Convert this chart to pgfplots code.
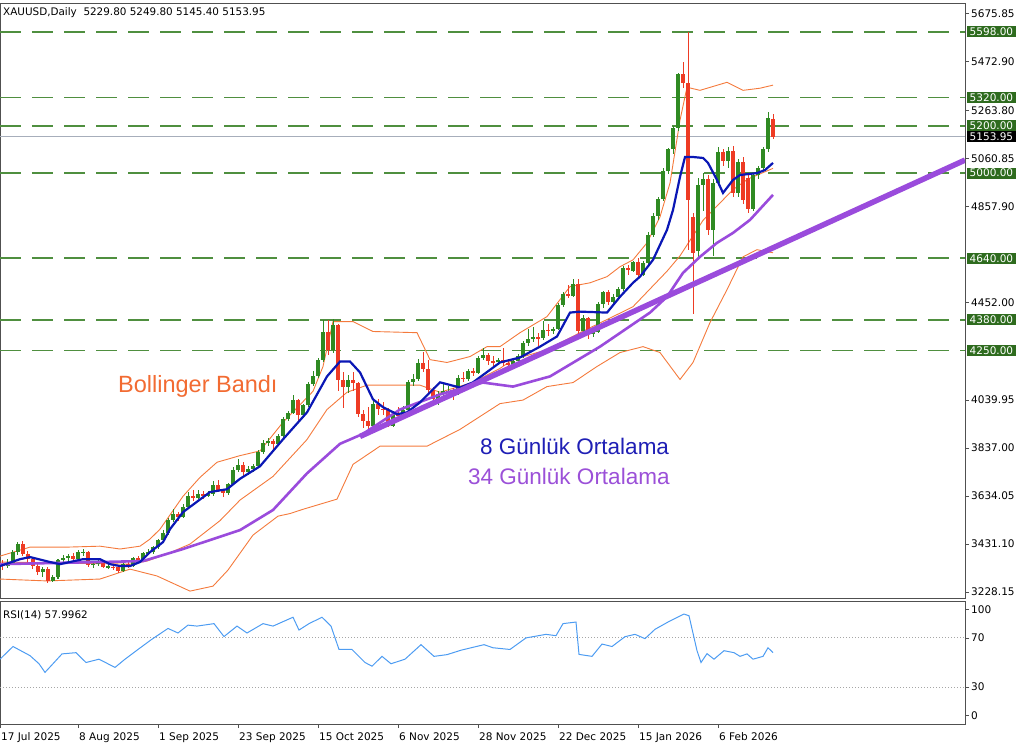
\documentclass[border=0pt]{standalone}
\usepackage{pgfplots}
\pgfplotsset{compat=1.18}
\usepackage{pgfplotstable}
\usepackage{fontspec}
\setmainfont{DejaVu Sans}
\newfontfamily\arialfont{Liberation Sans}

\definecolor{upc}{HTML}{2F8A22}
\definecolor{dnc}{HTML}{EE3B24}
\definecolor{bband}{HTML}{F47A3C}
\definecolor{ma8}{HTML}{0A17B5}
\definecolor{ma34}{HTML}{9A4BDC}
\definecolor{lvl}{HTML}{4F8F3F}
\definecolor{lvlbox}{HTML}{2E6B1E}
\definecolor{rsiblue}{HTML}{4D9CF2}
\definecolor{frame}{HTML}{505050}
\definecolor{pricegray}{HTML}{A7AEBB}
\definecolor{txtorange}{HTML}{F26B32}
\definecolor{txtblue}{HTML}{1F1FB5}
\definecolor{txtpurple}{HTML}{9B50D8}

\newcommand\tickfont{\fontsize{10.5}{12}\selectfont}

% daily candles: index, open, high, low, close
\pgfplotstableread{
i o h l c
0 3348 3365 3322 3340
1 3340 3368 3330 3352
2 3352 3405 3345 3397
3 3397 3440 3385 3431
4 3431 3445 3380 3390
5 3390 3400 3352 3368
6 3368 3378 3325 3337
7 3337 3345 3300 3314
8 3314 3335 3290 3326
9 3326 3334 3268 3275
10 3275 3300 3270 3290
11 3290 3366 3282 3362
12 3362 3385 3352 3373
13 3373 3390 3355 3380
14 3380 3392 3355 3368
15 3368 3405 3360 3397
16 3397 3410 3380 3398
17 3398 3402 3335 3342
18 3342 3360 3330 3348
19 3348 3370 3340 3356
20 3356 3362 3330 3336
21 3336 3348 3325 3336
22 3336 3345 3322 3332
23 3332 3338 3310 3316
24 3316 3352 3312 3346
25 3346 3355 3330 3339
26 3339 3378 3335 3371
27 3371 3380 3355 3366
28 3366 3398 3360 3393
29 3393 3410 3385 3397
30 3397 3423 3390 3417
31 3417 3452 3410 3448
32 3448 3490 3440 3477
33 3477 3540 3470 3533
34 3533 3578 3525 3560
35 3560 3568 3528 3545
36 3545 3600 3540 3587
37 3587 3650 3580 3636
38 3636 3658 3615 3626
39 3626 3660 3620 3641
40 3641 3655 3620 3634
41 3634 3655 3628 3643
42 3643 3698 3635 3680
43 3680 3703 3650 3660
44 3660 3665 3630 3645
45 3645 3690 3640 3685
46 3685 3755 3680 3746
47 3746 3790 3735 3764
48 3764 3778 3720 3737
49 3737 3762 3725 3750
50 3750 3770 3735 3760
51 3760 3830 3755 3820
52 3820 3870 3810 3858
53 3858 3880 3845 3866
54 3866 3875 3830 3856
55 3856 3895 3850 3886
56 3886 3970 3880 3960
57 3960 3995 3950 3985
58 3985 4060 3980 4040
59 4040 4045 3945 3975
60 3975 4025 3965 4018
61 4018 4118 4010 4110
62 4110 4165 4100 4142
63 4142 4218 4135 4210
64 4210 4380 4200 4326
65 4326 4380 4230 4252
66 4252 4381 4240 4356
67 4356 4360 4080 4125
68 4125 4160 4005 4095
69 4095 4145 4070 4126
70 4126 4160 4080 4112
71 4112 4115 3970 3982
72 3982 4000 3920 3952
73 3952 4010 3910 3930
74 3930 4040 3915 4025
75 4025 4045 3975 4002
76 4002 4030 3975 4000
77 4000 4005 3928 3932
78 3932 3995 3925 3980
79 3980 4010 3960 3977
80 3977 4015 3970 4000
81 4000 4125 3995 4115
82 4115 4150 4100 4128
83 4128 4212 4120 4195
84 4195 4245 4160 4172
85 4172 4210 4065 4083
86 4083 4095 4030 4046
87 4046 4080 4020 4066
88 4066 4110 4040 4077
89 4077 4100 4050 4078
90 4078 4090 4040 4065
91 4065 4145 4060 4135
92 4135 4160 4115 4131
93 4131 4172 4120 4163
94 4163 4175 4140 4155
95 4155 4225 4150 4218
96 4218 4260 4210 4232
97 4232 4240 4190 4206
98 4206 4225 4180 4199
99 4199 4220 4190 4208
100 4208 4260 4185 4198
101 4198 4215 4170 4189
102 4189 4215 4180 4207
103 4207 4235 4195 4228
104 4228 4288 4220 4280
105 4280 4340 4270 4300
106 4300 4350 4285 4305
107 4305 4325 4270 4302
108 4302 4375 4295 4338
109 4338 4360 4310 4332
110 4332 4350 4320 4339
111 4339 4450 4335 4444
112 4444 4497 4435 4490
113 4490 4525 4470 4480
114 4480 4550 4475 4532
115 4532 4550 4302 4332
116 4332 4400 4310 4385
117 4385 4390 4300 4319
118 4319 4350 4305 4330
119 4330 4455 4325 4448
120 4448 4500 4430 4495
121 4495 4505 4440 4455
122 4455 4490 4445 4478
123 4478 4520 4465 4510
124 4510 4605 4500 4597
125 4597 4610 4570 4588
126 4588 4630 4580 4625
127 4625 4640 4555 4570
128 4570 4630 4565 4620
129 4620 4750 4610 4740
130 4740 4830 4730 4820
131 4820 4900 4800 4890
132 4890 5020 4880 5010
133 5010 5105 4995 5100
134 5100 5200 5080 5190
135 5190 5425 5180 5420
136 5420 5470 5360 5380
137 5380 5598 4675 4885
138 4815 4830 4405 4660
139 4670 4980 4640 4950
140 4950 5000 4840 4975
141 4975 4990 4740 4760
142 4760 4975 4650 4960
143 4960 5110 4950 5090
144 5090 5100 5030 5050
145 5050 5110 5020 5095
146 5095 5115 4900 4915
147 4915 5060 4900 5045
148 5045 5070 4870 4885
149 4980 5000 4830 4850
150 4850 5000 4840 4990
151 4990 5030 4975 5020
152 5020 5110 5010 5100
153 5100 5260 5090 5235
154 5229.8 5249.8 5145.4 5153.95
}\candles

\pgfplotsset{
  mt/.style={
    scale only axis, width=965pt, enlargelimits=false,
    xmin=-0.6, xmax=192.4,
    axis line style={draw=frame, line width=0.8pt},
    tick style={draw=frame, line width=0.6pt},
    tick align=outside, major tick length=4pt,
    ytick pos=right, yticklabel pos=right,
    yticklabel style={anchor=west, inner sep=0pt, xshift=2pt, font=\tickfont},
    clip mode=individual,
  },
  lvlline/.style={lvl, line width=1.8pt, dash pattern=on 21pt off 11pt, forget plot},
}
\tikzset{
  lbl/.style={anchor=west, fill=lvlbox, text=white, font=\tickfont,
    inner xsep=2.5pt, inner ysep=1.5pt, xshift=2pt},
}

\begin{document}
\begin{tikzpicture}
\useasboundingbox (0pt,0pt) rectangle (1024pt,-749pt);

\begin{axis}[mt, name=main, at={(0pt,-3pt)}, anchor=north west,
  height=595pt, ymin=3202.8, ymax=5719.4,
  xtick=\empty,
  ytick={3228.15,3431.10,3634.05,3837.00,4039.95,4452.00,4857.90,5060.85,5263.80,5472.90,5675.85},
  yticklabels={3228.15,3431.10,3634.05,3837.00,4039.95,4452.00,4857.90,5060.85,5263.80,5472.90,5675.85},
]
% horizontal levels
\addplot[lvlline] coordinates {(-0.6,5598) (192.4,5598)};
\addplot[lvlline] coordinates {(-0.6,5320) (192.4,5320)};
\addplot[lvlline] coordinates {(-0.6,5200) (192.4,5200)};
\addplot[lvlline] coordinates {(-0.6,5000) (192.4,5000)};
\addplot[lvlline] coordinates {(-0.6,4640) (192.4,4640)};
\addplot[lvlline] coordinates {(-0.6,4380) (192.4,4380)};
\addplot[lvlline] coordinates {(-0.6,4250) (192.4,4250)};
\addplot[pricegray, line width=0.8pt, forget plot] coordinates {(-0.6,5153.95) (192.4,5153.95)};

% bollinger bands
\addplot[bband, line width=0.9pt, forget plot] coordinates {
(-0.6,3380) (5.4,3418) (12.8,3418) (19.4,3422) (23.4,3410) (27.4,3422) (29.4,3452)
(31.4,3494) (32.8,3536) (36,3633) (39.4,3713) (42.8,3777) (47.4,3805) (51.4,3825)
(56,3946) (62,4077) (64,4182) (66,4372) (70,4372) (74,4330) (82.8,4325) (85.4,4211)
(88.8,4199) (93.4,4224) (96.8,4266) (99.4,4266) (103.4,4325) (108.8,4393) (113.4,4520)
(117.4,4536) (120.8,4562) (123.4,4604) (126,4633) (128.8,4705) (131.4,4815)
(133.4,4958) (135.4,5224) (136.8,5363) (139.4,5350) (144.8,5384) (148,5350)
(151.4,5359) (154,5372)};
\addplot[bband, line width=0.9pt, forget plot] coordinates {
(-0.6,3355) (11.4,3351) (25.4,3346) (28.8,3359) (32.8,3389) (37.4,3431) (43.4,3530)
(47.4,3617) (54,3717) (60.8,3873) (64.8,4000) (68.8,4073) (72.8,4103) (83.4,4103)
(87.4,4073) (94,4115) (99.4,4174) (102,4211) (108.8,4253) (115.4,4325) (122,4393)
(126,4435) (132.8,4585) (135.4,4650) (140,4800) (146,4930) (149,4975) (154,5020)};
\addplot[bband, line width=0.9pt, forget plot] coordinates {
(-0.6,3283) (8.8,3275) (19.4,3283) (25.4,3325) (30.8,3296) (37.4,3232) (42,3253)
(45,3321) (50,3469) (55,3549) (57.4,3560) (60,3578) (66.8,3621) (70,3768) (75.4,3845)
(84.8,3845) (91.4,3916) (99.4,4025) (104,4040) (108.8,4097) (114,4114) (118.8,4182)
(123.4,4241) (128,4266) (131.4,4241) (135.4,4127) (138,4199) (141.4,4368)
(144.8,4507) (148,4646) (150.8,4676) (154,4663)};

% candles: wicks and bodies
\addplot[draw=none, mark=none, forget plot,
  restrict expr to domain={\thisrow{c}-\thisrow{o}}{0:100000},
  error bars/.cd, y dir=both, y explicit, error mark=none,
  error bar style={draw=upc, line width=1pt}]
  table[x=i, y expr={(\thisrow{h}+\thisrow{l})/2}, y error expr={(\thisrow{h}-\thisrow{l})/2}] {\candles};
\addplot[draw=none, mark=none, forget plot,
  restrict expr to domain={\thisrow{c}-\thisrow{o}}{0:100000},
  error bars/.cd, y dir=both, y explicit, error mark=none,
  error bar style={draw=upc, line width=3.8pt}]
  table[x=i, y expr={(\thisrow{o}+\thisrow{c})/2}, y error expr={max(abs(\thisrow{c}-\thisrow{o})/2,1.5)}] {\candles};
\addplot[draw=none, mark=none, forget plot,
  restrict expr to domain={\thisrow{c}-\thisrow{o}}{-100000:-0.001},
  error bars/.cd, y dir=both, y explicit, error mark=none,
  error bar style={draw=dnc, line width=1pt}]
  table[x=i, y expr={(\thisrow{h}+\thisrow{l})/2}, y error expr={(\thisrow{h}-\thisrow{l})/2}] {\candles};
\addplot[draw=none, mark=none, forget plot,
  restrict expr to domain={\thisrow{c}-\thisrow{o}}{-100000:-0.001},
  error bars/.cd, y dir=both, y explicit, error mark=none,
  error bar style={draw=dnc, line width=3.8pt}]
  table[x=i, y expr={(\thisrow{o}+\thisrow{c})/2}, y error expr={max(abs(\thisrow{c}-\thisrow{o})/2,1.5)}] {\candles};

% 34-day average
\addplot[ma34, line width=2.6pt, forget plot] coordinates {
(-0.6,3346) (28,3359) (36,3410) (47.4,3490) (54,3575) (60.8,3730) (67.4,3855)
(72,3897) (79.4,4000) (87.4,4064) (96,4114) (102,4097) (109.4,4140) (119.4,4266)
(129.4,4410) (132.8,4477) (136,4578) (139.4,4646) (142.8,4705) (146,4747)
(149.4,4802) (154,4908)};
% 8-day average
\addplot[ma8, line width=2.2pt, forget plot] coordinates {
(-0.6,3338) (3.4,3367) (5.4,3376) (9.4,3355) (11.4,3346) (16,3367) (19.4,3367)
(21.4,3346) (23.4,3338) (25.4,3338) (27.4,3355) (29.4,3397) (32,3439) (33.4,3494)
(36,3566) (41.4,3651) (44.8,3663) (47.4,3707) (51.4,3760) (56,3874) (60.8,3988)
(64.8,4140) (67.4,4203) (69.4,4203) (71.4,4157) (74,4043) (76,4010) (78.8,3980)
(80.8,3988) (83.4,4030) (87.4,4115) (91.4,4093) (94,4115) (99.4,4199) (103.4,4220)
(107.4,4266) (110.8,4309) (113.4,4410) (115.4,4414) (120.8,4410) (123.4,4477)
(126,4536) (127.4,4562) (130,4633) (132.8,4760) (134,4844) (135.4,4984) (136.4,5068)
(138,5068) (140,5064) (141,5043) (142.8,4971) (144,4916) (146,4971) (147.4,4992)
(150.8,5000) (152.4,5013) (154,5043)};
% trend line
\addplot[ma34, line width=5.5pt, forget plot] coordinates {(71.4,3886) (192.4,5055)};

% level labels on the price scale
\node[lbl] at (192.4,5598) {5598.00};
\node[lbl] at (192.4,5320) {5320.00};
\node[lbl] at (192.4,5200) {5200.00};
\node[lbl, fill=black] at (192.4,5153.95) {5153.95};
\node[lbl] at (192.4,5000) {5000.00};
\node[lbl] at (192.4,4640) {4640.00};
\node[lbl] at (192.4,4380) {4380.00};
\node[lbl] at (192.4,4250) {4250.00};

% texts
\node[anchor=base west, inner sep=0pt, font=\fontsize{10.4}{12}\selectfont]
  at (rel axis cs:0,1) [xshift=3pt, yshift=-13pt] {XAUUSD,Daily\ \ 5229.80 5249.80 5145.40 5153.95};
\node[anchor=base west, inner sep=0pt, text=txtorange, font=\arialfont\fontsize{23.5}{26}\selectfont]
  at (23,4074) {Bollinger Bandı};
\node[anchor=base west, inner sep=0pt, text=txtblue, font=\arialfont\fontsize{22.5}{26}\selectfont]
  at (95.4,3808) {8 Günlük Ortalama};
\node[anchor=base west, inner sep=0pt, text=txtpurple, font=\arialfont\fontsize{22.5}{26}\selectfont]
  at (93,3685) {34 Günlük Ortalama};
\end{axis}

\begin{axis}[mt, name=rsi, at={(0pt,-601pt)}, anchor=north west,
  height=123pt, ymin=0, ymax=100,
  ytick={7,30,70,93}, yticklabels={0,30,70,100},
  xtick pos=bottom,
  xtick={-0.6,15,31,47,63,79,95,111,127,143},
  xticklabels={17 Jul 2025,8 Aug 2025,1 Sep 2025,23 Sep 2025,15 Oct 2025,6 Nov 2025,28 Nov 2025,22 Dec 2025,15 Jan 2026,6 Feb 2026},
  xticklabel style={anchor=north west, inner sep=0pt, xshift=1pt, yshift=-4pt, font=\tickfont},
]
\addplot[gray!70, line width=1pt, dotted, forget plot] coordinates {(-0.6,70) (192.4,70)};
\addplot[gray!70, line width=1pt, dotted, forget plot] coordinates {(-0.6,30) (192.4,30)};
\addplot[rsiblue, line width=1pt, forget plot] coordinates {
(-0.6,52.7) (2,63) (5.4,55.6) (7.2,49) (8.4,42) (10,49) (11.8,57) (14.6,58) (16.6,50)
(19.2,52.7) (22.4,46) (24.4,52.7) (27,60.6) (29.6,68.4) (33,77.7) (35,74) (37,80.4)
(38.8,79.6) (42.2,81.6) (44.2,71.1) (46.8,79.6) (48.8,74) (52,81.6) (54,79.6) (58,86.8)
(59.2,76.4) (61.2,81.6) (63.8,86.8) (65.6,79.6) (67.2,60.6) (69.8,60.6) (72.4,50)
(73.8,47) (75.8,55) (77.6,49) (80.4,52.7) (83.6,64.5) (86.2,55) (88.8,56.4) (91.6,60)
(96.2,64.5) (98,62) (101.4,60.6) (104.6,70) (108.6,72.9) (110.6,71.8) (112,81.6)
(114.6,82.9) (115.2,56.6) (117.8,55) (119.8,65) (121.8,63) (124.4,71) (126.4,72.9)
(128.4,69.4) (130.4,77) (133,82.9) (136.2,89.4) (137.2,88) (138.8,59.6) (139.6,50)
(140.8,57.2) (142.2,52.7) (144.2,59.6) (146.2,58) (147.4,55) (148.8,57) (150,52.7)
(152,55) (153,62) (154,58)};
\node[anchor=base west, inner sep=0pt, font=\fontsize{10.4}{12}\selectfont]
  at (rel axis cs:0,1) [xshift=3pt, yshift=-17pt] {RSI(14) 57.9962};
\end{axis}
\end{tikzpicture}
\end{document}
